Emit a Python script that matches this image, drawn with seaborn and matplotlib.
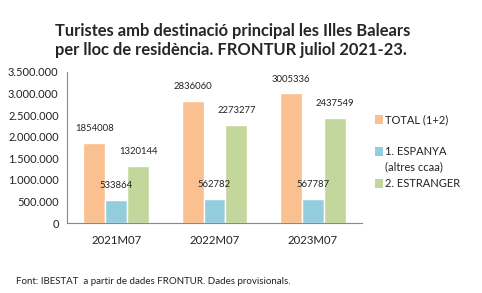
import matplotlib
matplotlib.use('Agg')
from matplotlib import pyplot as plt
from matplotlib.patches import Rectangle
import seaborn as sns
import pandas as pd

# dades llegides del gràfic
periodes = ['2021M07', '2022M07', '2023M07']
series = ['TOTAL (1+2)', '1. ESPANYA\n(altres ccaa)', '2. ESTRANGER']
total = [1854008, 2836060, 3005336]
espanya = [533864, 562782, 567787]
estranger = [1320144, 2273277, 2437549]

colors = ['#FAC090', '#93CDDD', '#C3D69B']

df = pd.DataFrame({
    'periode': periodes * 3,
    'serie': [series[0]] * 3 + [series[1]] * 3 + [series[2]] * 3,
    'valor': total + espanya + estranger,
})

sns.set_style('white')
plt.rcParams['font.family'] = ['Lato', 'DejaVu Sans']

W, H = 482, 293
fig = plt.figure(figsize=(4.82, 2.93), dpi=100)
ax = fig.add_axes([67 / W, 1 - 223 / H, 295 / W, 151 / H])

sns.barplot(data=df, x='periode', y='valor', hue='serie', palette=colors,
            width=0.67, saturation=1, ax=ax, legend=False)

for cont in ax.containers:
    ax.bar_label(cont, labels=[str(int(v)) for v in cont.datavalues],
                 padding=7, fontsize=6.8, color='#222222')

ax.set_ylim(0, 3500000)
ax.set_xlim(-0.5, 2.5)
ax.set_yticks(range(0, 3500001, 500000))
ax.set_yticklabels([f'{v:,}'.replace(',', '.') for v in range(0, 3500001, 500000)],
                   fontsize=8, color='#222222')
ax.set_xticks([0, 1, 2])
ax.set_xticklabels(periodes, fontsize=8.2, color='#222222')
ax.set_xticks([-0.5, 0.5, 1.5, 2.5], minor=True)
ax.tick_params(axis='x', which='major', length=0, pad=9)
ax.tick_params(axis='x', which='minor', length=4, color='#888888', direction='out')
ax.tick_params(axis='y', length=4, color='#888888', direction='out', pad=2)
ax.set_xlabel('')
ax.set_ylabel('')
for s in ['top', 'right']:
    ax.spines[s].set_visible(False)
for s in ['left', 'bottom']:
    ax.spines[s].set_color('#888888')
    ax.spines[s].set_linewidth(0.8)

# llegenda
leg_y = [120, 152, 184]
for c, lab, y in zip(colors, series, leg_y):
    fig.patches.append(Rectangle((375 / W, 1 - (y + 4) / H), 8 / W, 9 / H,
                                 transform=fig.transFigure, facecolor=c, edgecolor='none'))
    fig.text(385 / W, 1 - (y - 6) / H, lab, fontsize=8, va='top', ha='left',
             color='#222222', linespacing=1.5)

fig.text(55 / W, 1 - 23 / H,
         'Turistes amb destinació principal les Illes Balears\nper lloc de residència. FRONTUR juliol 2021-23.',
         fontsize=11.9, fontweight='bold', va='top', ha='left', linespacing=1.2)

fig.text(16 / W, 1 - 282 / H,
         'Font: IBESTAT  a partir de dades FRONTUR. Dades provisionals.',
         fontsize=7, va='center', ha='left', color='#222222')

fig.savefig('out.png', dpi=100)
